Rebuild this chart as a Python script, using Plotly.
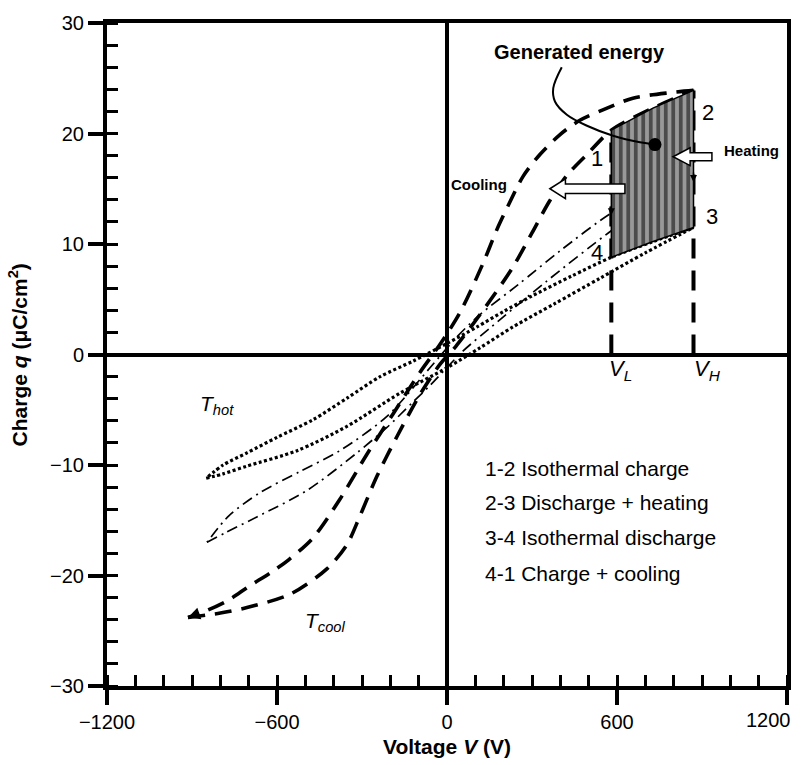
import plotly.graph_objects as go

FONT = "Liberation Sans, Arial, Helvetica, sans-serif"

# ---- T_cool loop (dashed) ----
cool_desc_v = [870, 787, 656, 565, 469, 399, 328, 268, 222, 176, 128, 46, -25, -95,
               -191, -282, -378, -473, -560, -614, -700, -776, -850, -914]
cool_desc_q = [23.9, 23.7, 23.2, 22.3, 21.2, 19.9, 18.1, 16.1, 13.8, 11.3, 8.3, 3.8, 0.9, -1.6,
               -5.4, -9.0, -13.1, -16.6, -18.6, -19.6, -21.0, -22.3, -23.2, -23.8]
cool_asc_v = [-914, -800, -706, -554, -424, -353, -307, -247, -176, -95, -25, 30, 116, 230,
              300, 360, 423, 494, 580, 727, 870]
cool_asc_q = [-23.8, -23.4, -22.9, -21.7, -19.4, -17.2, -14.6, -11.0, -7.4, -3.6, -0.9, 0.7, 3.6, 7.8,
              11.0, 13.8, 16.2, 18.1, 20.3, 22.3, 23.9]

# ---- intermediate-temperature loop (dash-dot) ----
mid_desc_v = [870, 720, 580, 400, 250, 116, 35, -60, -212, -378, -520, -660, -770, -847]
mid_desc_q = [16.0, 14.6, 12.8, 9.4, 6.3, 3.6, 1.6, -1.2, -5.6, -8.7, -10.6, -12.5, -14.6, -17.0]
mid_asc_v = [-847, -780, -671, -494, -318, -212, -120, -60, 56, 152, 350, 580, 720, 870]
mid_asc_q = [-17.0, -16.1, -14.7, -12.3, -8.9, -6.6, -4.3, -2.8, 0.3, 2.4, 6.6, 11.2, 13.6, 16.0]

# ---- T_hot loop (dotted) ----
hot_desc_v = [870, 725, 580, 440, 300, 200, 106, 0, -120, -236, -350, -473, -600, -706, -790, -850]
hot_desc_q = [11.5, 10.2, 8.8, 7.1, 5.3, 3.9, 2.5, 1.0, -0.6, -2.0, -3.9, -5.9, -7.5, -8.9, -10.0, -11.2]
hot_asc_v = [-850, -790, -706, -529, -353, -166, 0, 116, 233, 380, 540, 700, 870]
hot_asc_q = [-11.2, -10.8, -10.1, -8.7, -6.5, -3.5, -1.2, 0.6, 2.5, 4.6, 6.9, 9.2, 11.5]

# ---- Olsen cycle ----
V_L = 580
V_H = 870
cycle_labels = ["1", "2", "3", "4"]
cycle_steps = ["1-2 Isothermal charge", "2-3 Discharge + heating",
               "3-4 Isothermal discharge", "4-1 Charge + cooling"]

# leader line from the "Generated energy" caption to the enclosed area
leader_v = [405, 375, 381, 423, 494, 586, 681, 734]
leader_q = [26.0, 24.1, 22.9, 21.7, 20.7, 19.8, 19.2, 19.0]

x_ticks = [-1200, -600, 0, 600, 1200]
x_tick_text = ["\u22121200", "\u2212600", "0", "600", ""]
y_ticks = [-30, -20, -10, 0, 10, 20, 30]

fig = go.Figure()

def branch(v, q, dash, width, shape="spline"):
    fig.add_trace(go.Scatter(x=v, y=q, mode="lines", showlegend=False, hoverinfo="skip",
                             line=dict(color="black", width=width, dash=dash, shape=shape,
                                       smoothing=0.8)))

# V_L and V_H guides
q1 = cool_asc_q[cool_asc_v.index(V_L)]
q2 = cool_asc_q[cool_asc_v.index(V_H)]
branch([V_L, V_L], [0, q1], "20px,12px", 4, "linear")
branch([V_H, V_H], [0, q2], "20px,12px", 4, "linear")

# loops
branch(hot_desc_v, hot_desc_q, "3px,2.5px", 3.2)
branch(hot_asc_v, hot_asc_q, "3px,2.5px", 3.2)
branch(mid_desc_v, mid_desc_q, "11px,5px,2px,5px", 1.7)
branch(mid_asc_v, mid_asc_q, "11px,5px,2px,5px", 1.7)
branch(cool_desc_v, cool_desc_q, "17px,10px", 3.6)
branch(cool_asc_v, cool_asc_q, "17px,10px", 3.6)

# enclosed area of the cycle: along the cool charging branch, back along the hot discharge branch
top = [(v, q) for v, q in zip(cool_asc_v, cool_asc_q) if V_L <= v <= V_H]
bot = sorted([(v, q) for v, q in zip(hot_desc_v, hot_desc_q) if V_L <= v <= V_H], reverse=True)
poly = top + bot + [top[0]]
fig.add_trace(go.Scatter(
    x=[p[0] for p in poly], y=[p[1] for p in poly], mode="lines", fill="toself",
    fillcolor="#999999",
    fillpattern=dict(shape="|", bgcolor="#999999", fgcolor="black", size=7.5, solidity=0.5),
    line=dict(color="black", width=1.5), showlegend=False, hoverinfo="skip"))

# leader line and marker
fig.add_trace(go.Scatter(x=leader_v, y=leader_q, mode="lines", showlegend=False, hoverinfo="skip",
                         line=dict(color="black", width=2, shape="spline")))
fig.add_trace(go.Scatter(x=[leader_v[-1]], y=[leader_q[-1]], mode="markers", showlegend=False,
                         hoverinfo="skip", marker=dict(color="black", size=13)))

# hollow block arrows
def block_arrow(x_tip, x_tail, y, head_len, head_half, body_half):
    xb = x_tip + head_len
    path = (f"M {x_tip},{y} L {xb},{y + head_half} L {xb},{y + body_half} "
            f"L {x_tail},{y + body_half} L {x_tail},{y - body_half} L {xb},{y - body_half} "
            f"L {xb},{y - head_half} Z")
    fig.add_shape(type="path", path=path, xref="x", yref="y", fillcolor="white",
                  line=dict(color="black", width=1.5), layer="above")

block_arrow(798, 935, 17.9, 60, 0.8, 0.36)
block_arrow(363, 628, 15.0, 55, 0.9, 0.42)

annotations = []

def label(x, y, text, size, bold=False, xanchor="center", italic=False):
    t = text
    if italic:
        t = f"<i>{t}</i>"
    if bold:
        t = f"<b>{t}</b>"
    annotations.append(dict(x=x, y=y, xref="x", yref="y", text=t, showarrow=False,
                            xanchor=xanchor, yanchor="middle",
                            font=dict(family=FONT, size=size, color="black")))

label(528, 17.7, cycle_labels[0], 22)
label(922, 21.9, cycle_labels[1], 22)
label(934, 12.5, cycle_labels[2], 22)
label(528, 9.2, cycle_labels[3], 22)
label(1074, 18.5, "Heating", 15, bold=True)
label(113, 15.4, "Cooling", 15, bold=True)
label(466, 27.4, "Generated energy", 20, bold=True)
label(-879, -4.6, "T<sub>hot</sub>", 21, xanchor="left", italic=True)
label(-508, -24.2, "T<sub>cool</sub>", 21, xanchor="left", italic=True)
label(566, -1.4, "V<sub>L</sub>", 22, xanchor="left", italic=True)
label(866, -1.4, "V<sub>H</sub>", 22, xanchor="left", italic=True)
for i, s in enumerate(cycle_steps):
    label(127, [-10.3, -13.4, -16.6, -19.8][i], s, 21, xanchor="left")

# right-most x tick label kept inside the page
annotations.append(dict(x=1.0, y=0, xref="paper", yref="paper", yshift=-34, xshift=6,
                        text="1200", showarrow=False, xanchor="right", yanchor="middle",
                        font=dict(family=FONT, size=20, color="black")))

# small direction arrowheads
def arrowhead(x, y, ax, ay, width):
    annotations.append(dict(x=x, y=y, ax=ax, ay=ay, xref="x", yref="y", axref="x", ayref="y",
                            text="", showarrow=True, arrowhead=2, arrowsize=1,
                            arrowwidth=width, arrowcolor="black"))

arrowhead(V_H, 15.6, V_H, 16.6, 1.4)
arrowhead(V_L, 12.6, V_L, 13.6, 1.4)
arrowhead(-914, -23.8, -870, -23.4, 2.4)

# axis titles
annotations.append(dict(x=-0.131, y=0.5, xref="paper", yref="paper", textangle=-90,
                        text="<b>Charge <i>q</i> (μC/cm<sup>2</sup>)</b>", showarrow=False,
                        xanchor="center", yanchor="middle",
                        font=dict(family=FONT, size=21, color="black")))
annotations.append(dict(x=0.5, y=-0.092, xref="paper", yref="paper",
                        text="<b>Voltage <i>V</i> (V)</b>", showarrow=False,
                        xanchor="center", yanchor="middle",
                        font=dict(family=FONT, size=21, color="black")))

axis_common = dict(showline=True, linewidth=4, linecolor="black", mirror=True,
                   showgrid=False, zeroline=True, zerolinewidth=4, zerolinecolor="black",
                   ticks="outside", ticklen=15, tickwidth=4, tickcolor="black",
                   tickfont=dict(family=FONT, size=20, color="black"))

fig.update_layout(
    width=803, height=765,
    margin=dict(l=107, r=16, t=14, b=79),
    paper_bgcolor="white", plot_bgcolor="white",
    xaxis=dict(range=[-1200, 1200], tickvals=x_ticks, ticktext=x_tick_text,
               minor=dict(ticks="inside", dtick=100, ticklen=11, tickwidth=3, tickcolor="black"),
               **axis_common),
    yaxis=dict(range=[-30, 30], tickvals=y_ticks,
               minor=dict(ticks="inside", dtick=2, ticklen=11, tickwidth=3, tickcolor="black"),
               **axis_common),
    annotations=annotations,
)

fig.write_html("out.html")
